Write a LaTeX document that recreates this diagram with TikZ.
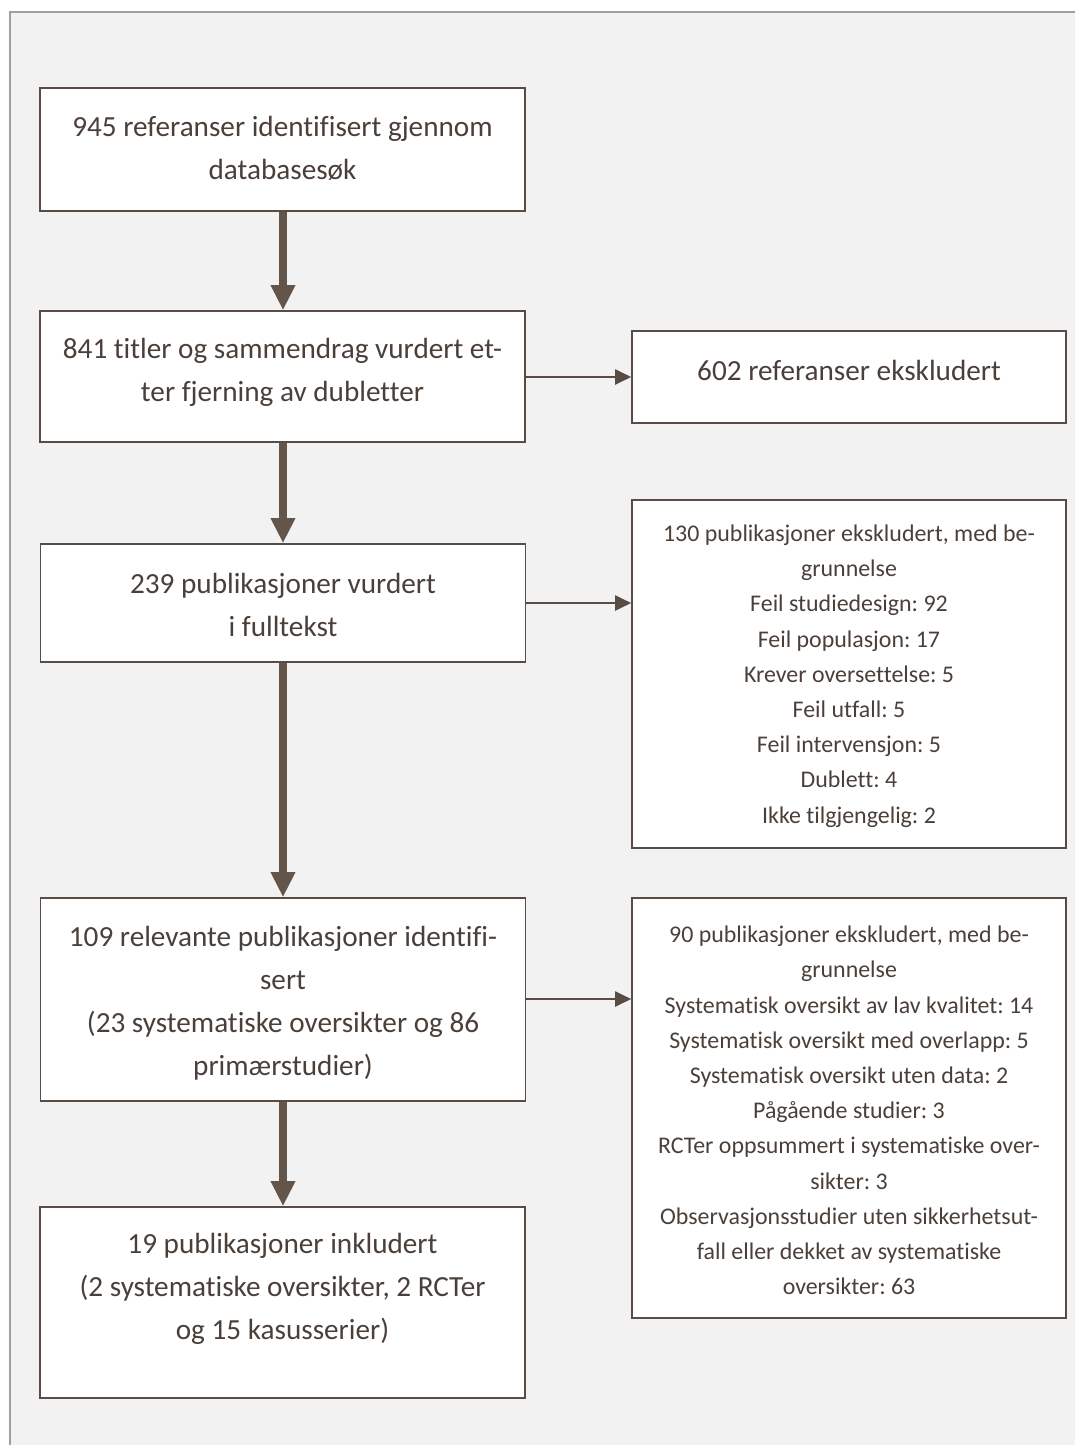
\documentclass[tikz,border=0pt]{standalone}
\usepackage{fontspec}
\setmainfont{Carlito}[Ligatures={NoCommon,TeX}]
\frenchspacing
\usetikzlibrary{arrows.meta}
\definecolor{txtc}{RGB}{75,64,57}
\definecolor{boxc}{RGB}{88,76,68}
\definecolor{arrc}{RGB}{100,85,75}
\definecolor{bgc}{RGB}{242,242,242}
\definecolor{framec}{RGB}{160,160,160}
\tikzset{
  mainbox/.style={draw=boxc, line width=1.6pt, fill=white, minimum width=485, minimum height=#1, inner sep=0pt},
  sidebox/.style={draw=boxc, line width=1.6pt, fill=white, minimum width=434, minimum height=#1, inner sep=0pt},
  maintxt/.style={text=txtc, align=center, inner sep=0pt, font=\fontsize{29.2}{43}\selectfont\frenchspacing},
  sidetxt/.style={text=txtc, align=center, inner sep=0pt, font=\fontsize{23.9}{35.2}\selectfont\frenchspacing},
  bigarrow/.style={draw=arrc, line width=8pt, -{Triangle[width=23pt,length=25pt]}, shorten >=0pt},
  thinarrow/.style={draw=boxc, line width=2pt, -{Triangle[width=15pt,length=16pt]}}
}
\begin{document}
\begin{tikzpicture}[x=1pt,y=-1pt]
\useasboundingbox (0,0) rectangle (1074,1445);
\path[fill=bgc, draw=framec, line width=1.5pt] (10,12) rectangle (1090,1460);
% main boxes
\node[mainbox=123] (b1) at (282.5,149.5) {};
\node[maintxt] (t1) at (282.5,148.5) {945 referanser identifisert gjennom\\databasesøk};
\node[mainbox=131] (b2) at (282.5,376.5) {};
\node[maintxt] (t2) at (282.5,372.5) {841 titler og sammendrag vurdert et-\\ter fjerning av dubletter};
\node[mainbox=118] (b3) at (283,603) {};
\node[maintxt] (t3) at (283,604.5) {239 publikasjoner vurdert\\i fulltekst};
\node[mainbox=203] (b4) at (283,999.5) {};
\node[maintxt] (t4) at (283,1003) {109 relevante publikasjoner identifi-\\sert\\(23 systematiske oversikter og 86\\primærstudier)};
\node[mainbox=191] (b5) at (282.5,1302.5) {};
\node[maintxt] (t5) at (282.5,1289) {19 publikasjoner inkludert\\(2 systematiske oversikter, 2 RCTer\\og 15 kasusserier)};
% side boxes
\node[sidebox=92] (s1) at (849,377) {};
\node[maintxt] (u1) at (849,370) {602 referanser ekskludert};
\node[sidebox=348] (s2) at (849,674) {};
\node[sidetxt] (u2) at (849,676) {130 publikasjoner ekskludert, med be-\\grunnelse\\Feil studiedesign: 92\\Feil populasjon: 17\\Krever oversettelse: 5\\Feil utfall: 5\\Feil intervensjon: 5\\Dublett: 4\\Ikke tilgjengelig: 2};
\node[sidebox=420] (s3) at (849,1108) {};
\node[sidetxt] (u3) at (849,1110.5) {90 publikasjoner ekskludert, med be-\\grunnelse\\Systematisk oversikt av lav kvalitet: 14\\Systematisk oversikt med overlapp: 5\\Systematisk oversikt uten data: 2\\Pågående studier: 3\\RCTer oppsummert i systematiske over-\\sikter: 3\\Observasjonsstudier uten sikkerhetsut-\\fall eller dekket av systematiske\\oversikter: 63};
% thick arrows
\draw[bigarrow] (b1.south -| 283,0) -- (b2.north -| 283,0);
\draw[bigarrow] (b2.south -| 283,0) -- (b3.north -| 283,0);
\draw[bigarrow] (b3.south -| 283,0) -- (b4.north -| 283,0);
\draw[bigarrow] (b4.south -| 283,0) -- (b5.north -| 283,0);
% thin arrows
\draw[thinarrow] (b2.east |- s1.west) -- (s1.west);
\draw[thinarrow] (b3.east |- 0,603) -- (s2.west |- 0,603);
\draw[thinarrow] (b4.east |- 0,999) -- (s3.west |- 0,999);
\end{tikzpicture}
\end{document}
